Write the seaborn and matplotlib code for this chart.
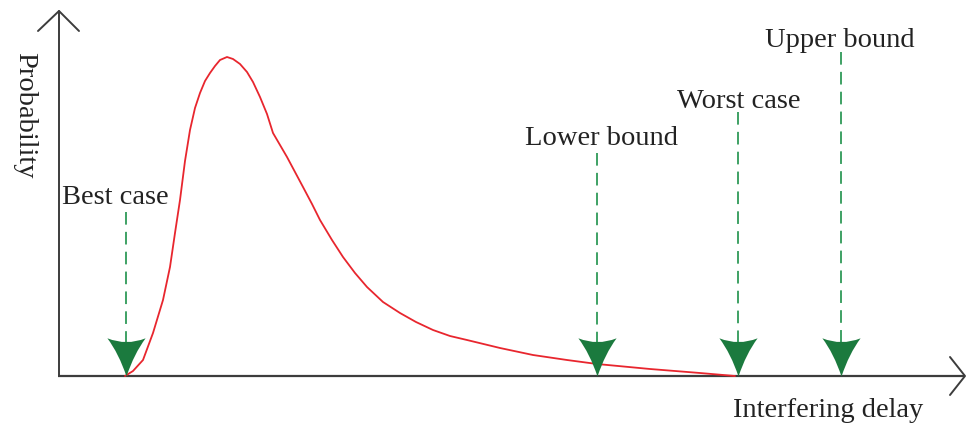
import numpy as np
import pandas as pd
import matplotlib
matplotlib.use("Agg")
import matplotlib.pyplot as plt
import seaborn as sns
from matplotlib.path import Path

# ---- data (x: interfering delay, y: probability; arbitrary units) ----
delay = [125, 133, 143, 153, 163, 170, 175, 180, 185, 190, 195, 200, 205, 210,
         215, 220, 227, 233, 240, 247, 253, 260, 267, 273, 280, 287, 295, 303,
         312, 320, 332, 343, 355, 367, 383, 400, 416, 433, 450, 467, 500,
         533, 567, 597, 650, 700, 735]
prob = [0, 5, 16, 43, 76, 109, 143, 176, 215, 246, 268, 283, 295, 303,
        310, 316, 319, 317, 312, 304, 294, 279, 262, 243, 231, 219, 204, 189,
        172, 156, 136, 119, 103, 89, 74, 63, 54, 46, 40, 36, 28,
        21, 16, 12, 7, 3, 0]

bound_labels = ["Best case", "Lower bound", "Worst case", "Upper bound"]
bound_delay = [126, 597, 738, 841]

x_label = "Interfering delay"
y_label = "Probability"

# ---- layout constants ----
BASE = 376          # baseline pixel row
H = 423
def py(ypix):
    return BASE - ypix

dash_top = [212, 153, 112, 52]                   # pixel rows where dashes start
label_pos = [(62, 204, 'left'), (525, 145, 'left'), (677, 108, 'left'), (765, 47, 'left')]

sns.set_theme(style="white")
plt.rcParams['font.family'] = ['Liberation Serif', 'DejaVu Serif']

fig = plt.figure(figsize=(9.66, 4.23), dpi=100)
ax = fig.add_axes([0, 0, 1, 1])
ax.set_xlim(0, 966)
ax.set_ylim(py(H), py(0))
ax.axis('off')

axis_col = '#3c3c3c'
# x axis with open arrow
ax.plot([58, 965], [0, 0], color=axis_col, lw=1.6, solid_capstyle='butt', zorder=2)
ax.plot([950, 965, 950], [py(357), 0, py(395)], color=axis_col, lw=1.4, zorder=2)
# y axis with open arrow
ax.plot([59, 59], [0, py(11)], color=axis_col, lw=1.4, zorder=2)
ax.plot([38, 59, 79], [py(31), py(11), py(31)], color=axis_col, lw=1.4, zorder=2)

# curve
df = pd.DataFrame({"delay": delay, "prob": prob})
sns.lineplot(data=df, x="delay", y="prob", ax=ax, color='#e8262e', lw=1.3,
             sort=False, estimator=None, zorder=3)

# arrowhead marker (concave-sided), tip at origin
verts = [(0, 0), (-0.2, 0.6), (-0.5, 1.0), (0, 0.8), (0.5, 1.0),
         (0.2, 0.6), (0, 0), (0, 0)]
codes = [Path.MOVETO, Path.CURVE3, Path.CURVE3, Path.CURVE3, Path.CURVE3,
         Path.CURVE3, Path.CURVE3, Path.CLOSEPOLY]
head = Path(verts, codes)

for bx, top in zip(bound_delay, dash_top):
    ax.plot([bx, bx], [py(top), py(350)], color='#2f9a58', lw=1.3,
            linestyle=(0, (7, 4)), zorder=4)
    ax.plot([bx], [0], marker=head, markersize=55, color='#1b7a3e',
            markeredgewidth=0, linestyle='none', zorder=5)

txt_col = '#222222'
fs = 20.5
for lab, (lx, ly, ha) in zip(bound_labels, label_pos):
    ax.text(lx, py(ly), lab, ha=ha, va='baseline', fontsize=fs, color=txt_col)

ax.text(733, py(417), x_label, ha='left', va='baseline', fontsize=fs, color=txt_col)
ax.text(18, py(115), y_label, ha='center', va='baseline', rotation=270,
        rotation_mode='anchor', fontsize=fs, color=txt_col)

fig.savefig("out.png", dpi=100)
